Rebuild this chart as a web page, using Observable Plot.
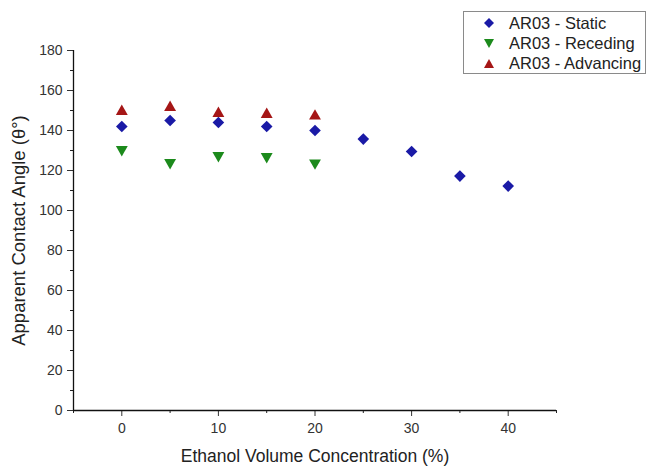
<!DOCTYPE html>
<html>
<head>
<meta charset="utf-8">
<script src="https://cdn.jsdelivr.net/npm/d3@7"></script>
<script src="https://cdn.jsdelivr.net/npm/@observablehq/plot@0.6"></script>
<style>
  html, body { margin: 0; padding: 0; background: #fff; }
  #wrap { position: relative; width: 651px; height: 466px; font-family: "Liberation Sans", Arial, sans-serif; }
  #legend { position: absolute; left: 463px; top: 11px; width: 183px; height: 63px; border: 1px solid #8a8a8a; background: #fff; box-sizing: border-box; padding-top: 1px; }
  .row { display: flex; align-items: center; height: 20.3px; font-size: 16.5px; color: #222; }
  .row svg { margin-left: 19px; margin-right: 14px; }
</style>
</head>
<body>
<div id="wrap"></div>
<script>
const concentration = [0, 5, 10, 15, 20, 25, 30, 35, 40];
const staticAngle = [142, 145, 144, 142, 140, 135.7, 129.5, 117.2, 112.2];
const recedingConc = [0, 5, 10, 15, 20];
const recedingAngle = [130, 123.5, 127, 126.5, 123.3];
const advancingConc = [0, 5, 10, 15, 20];
const advancingAngle = [150, 152, 149, 148.5, 147.7];
const seriesNames = ["AR03 - Static", "AR03 - Receding", "AR03 - Advancing"];
const seriesColors = ["#1a1aa6", "#1c8a1c", "#a51616"];
const xTicks = [0, 10, 20, 30, 40];
const xMinor = [-5, 5, 15, 25, 35, 45];
const yTicks = [0, 20, 40, 60, 80, 100, 120, 140, 160, 180];
const yMinor = [10, 30, 50, 70, 90, 110, 130, 150, 170];

const triDown = {
  draw(ctx, size) {
    const s = Math.sqrt(size * 1.6);
    ctx.moveTo(-s / 2, -s * 0.38);
    ctx.lineTo(s / 2, -s * 0.38);
    ctx.lineTo(0, s * 0.5);
    ctx.closePath();
  }
};
const triUp = {
  draw(ctx, size) {
    const s = Math.sqrt(size * 1.6);
    ctx.moveTo(-s / 2, s * 0.38);
    ctx.lineTo(s / 2, s * 0.38);
    ctx.lineTo(0, -s * 0.5);
    ctx.closePath();
  }
};
const diamond = {
  draw(ctx, size) {
    const s = Math.sqrt(size) * 0.62;
    ctx.moveTo(0, -s);
    ctx.lineTo(s, 0);
    ctx.lineTo(0, s);
    ctx.lineTo(-s, 0);
    ctx.closePath();
  }
};

const staticData = concentration.map((c, i) => ({x: c, y: staticAngle[i]}));
const recedingData = recedingConc.map((c, i) => ({x: c, y: recedingAngle[i]}));
const advancingData = advancingConc.map((c, i) => ({x: c, y: advancingAngle[i]}));

const chart = Plot.plot({
  width: 651,
  height: 466,
  marginLeft: 73,
  marginRight: 95,
  marginTop: 50,
  marginBottom: 56,
  style: {fontFamily: "Liberation Sans, Arial, sans-serif", fontSize: "14px", color: "#222", background: "#fff"},
  x: {domain: [-5, 45]},
  y: {domain: [0, 180]},
  marks: [
    Plot.axisX({ticks: xTicks, tickSize: 6, tickPadding: 7, fontSize: 14, color: "#333", label: null}),
    Plot.axisX({ticks: xMinor, tickSize: 3, tickFormat: () => "", label: null}),
    Plot.axisX({ticks: [], label: "Ethanol Volume Concentration (%)", labelAnchor: "center", labelArrow: "none", labelOffset: 51, fontSize: 17.5, color: "#222"}),
    Plot.axisY({ticks: yTicks, tickSize: 6, tickPadding: 5, fontSize: 14, color: "#333", label: null}),
    Plot.axisY({ticks: yMinor, tickSize: 3, tickFormat: () => "", label: null}),
    Plot.axisY({ticks: [], label: "Apparent Contact Angle (θ°)", labelAnchor: "center", labelArrow: "none", labelOffset: 62, fontSize: 18.5, color: "#222"}),
    Plot.ruleX([-5], {y1: 0, y2: 180, stroke: "#111", strokeWidth: 1.3}),
    Plot.ruleY([0], {x1: -5, x2: 45, stroke: "#111", strokeWidth: 1.3}),
    Plot.dot(staticData, {x: "x", y: "y", symbol: diamond, r: 5.3, fill: seriesColors[0], stroke: "none"}),
    Plot.dot(recedingData, {x: "x", y: "y", symbol: triDown, r: 5.3, fill: seriesColors[1], stroke: "none"}),
    Plot.dot(advancingData, {x: "x", y: "y", symbol: triUp, r: 5.3, fill: seriesColors[2], stroke: "none"})
  ]
});
const wrap = document.getElementById("wrap");
wrap.appendChild(chart);

const legend = document.createElement("div");
legend.id = "legend";
const shapes = [
  "M6,1 L11,6 L6,11 L1,6 Z",
  "M1,2 L11,2 L6,11 Z",
  "M1,10 L11,10 L6,1 Z"
];
seriesNames.forEach((name, i) => {
  const row = document.createElement("div");
  row.className = "row";
  row.innerHTML = `<svg width="12" height="12"><path d="${shapes[i]}" fill="${seriesColors[i]}"/></svg><span>${name}</span>`;
  legend.appendChild(row);
});
wrap.appendChild(legend);
</script>
</body>
</html>
